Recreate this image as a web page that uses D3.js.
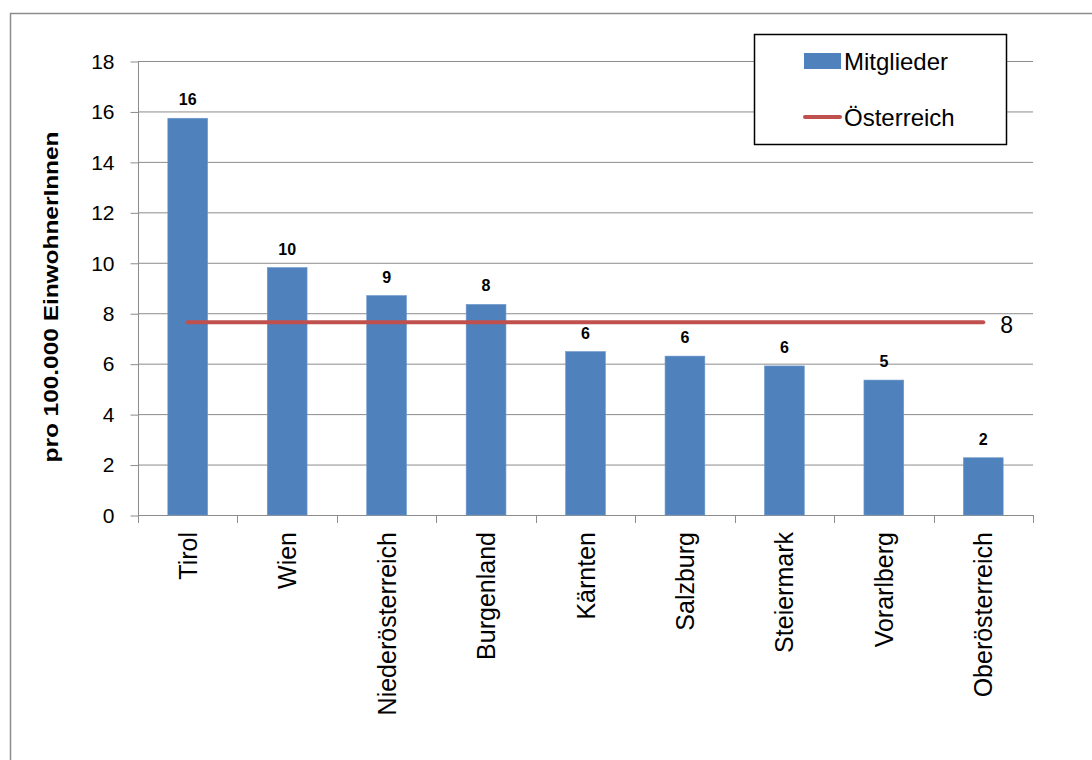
<!DOCTYPE html>
<html>
<head>
<meta charset="utf-8">
<script src="https://cdn.jsdelivr.net/npm/d3@7"></script>
<style>
  html, body { margin: 0; padding: 0; background: #fff; }
  svg { display: block; font-family: "Liberation Sans", Arial, sans-serif; }
</style>
</head>
<body>
<svg id="chart" width="1092" height="760"></svg>
<script>
// Mitglieder pro 100.000 EinwohnerInnen nach Bundesland
const categories = ["Tirol", "Wien", "Niederösterreich", "Burgenland", "Kärnten",
                    "Salzburg", "Steiermark", "Vorarlberg", "Oberösterreich"];
const mitglieder = [15.73, 9.81, 8.70, 8.35, 6.48, 6.30, 5.91, 5.35, 2.27];
const oesterreich = 7.64;
const yTicks = [0, 2, 4, 6, 8, 10, 12, 14, 16, 18];
const seriesNames = ["Mitglieder", "Österreich"];

const svg = d3.select("#chart");
const margin = { left: 138, right: 1033, top: 61, bottom: 515 };
const gridColor = "#8c8c8c";

// outer chart frame (open at right and bottom)
svg.append("path")
  .attr("d", `M10.5,760 V13.5 H1092`)
  .attr("fill", "none").attr("stroke", gridColor).attr("stroke-width", 1.5);

const x = d3.scaleBand()
  .domain(categories)
  .range([margin.left, margin.right])
  .paddingInner(0.6)
  .paddingOuter(0.3);

const y = d3.scaleLinear()
  .domain([0, 18])
  .range([margin.bottom, margin.top]);

// horizontal gridlines
svg.append("g")
  .selectAll("line")
  .data(yTicks.filter(d => d > 0))
  .join("line")
  .attr("x1", margin.left).attr("x2", margin.right)
  .attr("y1", d => y(d) + 0.5).attr("y2", d => y(d) + 0.5)
  .attr("stroke", gridColor).attr("stroke-width", 1);

// y axis
const yAxis = svg.append("g")
  .attr("transform", `translate(${margin.left + 0.5},0.5)`)
  .call(d3.axisLeft(y).tickValues(yTicks).tickSize(8).tickPadding(16).tickFormat(d3.format("d")));
yAxis.select(".domain").attr("stroke", gridColor).attr("d", `M0,${margin.top}V${margin.bottom}`);
yAxis.selectAll(".tick line").attr("stroke", gridColor);
yAxis.selectAll(".tick text")
  .attr("font-size", 21).attr("fill", "#000")
  .attr("font-family", "Liberation Sans, Arial, sans-serif");

// x axis with ticks at category boundaries
const step = (margin.right - margin.left) / categories.length;
svg.append("line")
  .attr("x1", margin.left).attr("x2", margin.right)
  .attr("y1", margin.bottom + 0.5).attr("y2", margin.bottom + 0.5)
  .attr("stroke", gridColor);
svg.append("g").selectAll("line")
  .data(d3.range(categories.length + 1))
  .join("line")
  .attr("x1", i => Math.round(margin.left + i * step) + 0.5)
  .attr("x2", i => Math.round(margin.left + i * step) + 0.5)
  .attr("y1", margin.bottom).attr("y2", margin.bottom + 8)
  .attr("stroke", gridColor);

// category labels, rotated
svg.append("g").selectAll("text")
  .data(categories)
  .join("text")
  .attr("transform", d => `translate(${x(d) + x.bandwidth() / 2 + 9},532) rotate(-90)`)
  .attr("text-anchor", "end")
  .attr("font-size", 25)
  .attr("fill", "#000")
  .text(d => d);

// bars
const barData = categories.map((c, i) => ({ c, v: mitglieder[i] }));
svg.append("g").selectAll("rect")
  .data(barData)
  .join("rect")
  .attr("x", d => x(d.c))
  .attr("width", x.bandwidth())
  .attr("y", d => y(d.v))
  .attr("height", d => y(0) - y(d.v))
  .attr("fill", "#4f81bd")
  .attr("stroke", "#6d98cc").attr("stroke-width", 0.6);

// value labels
svg.append("g").selectAll("text")
  .data(barData)
  .join("text")
  .attr("x", d => x(d.c) + x.bandwidth() / 2)
  .attr("y", d => y(d.v) - 13)
  .attr("text-anchor", "middle")
  .attr("font-size", 16).attr("font-weight", "bold")
  .attr("fill", "#000")
  .text(d => d3.format(".0f")(d.v));

// Österreich reference line
const first = categories[0], last = categories[categories.length - 1];
svg.append("line")
  .attr("x1", x(first) + x.bandwidth() / 2)
  .attr("x2", x(last) + x.bandwidth() / 2)
  .attr("y1", y(oesterreich)).attr("y2", y(oesterreich))
  .attr("stroke", "#c0504d").attr("stroke-width", 4).attr("stroke-linecap", "round");
svg.append("text")
  .attr("x", x(last) + x.bandwidth() / 2 + 17)
  .attr("y", y(oesterreich) + 11)
  .attr("font-size", 23).attr("fill", "#000")
  .text(d3.format(".0f")(oesterreich));

// y axis title
svg.append("text")
  .attr("transform", `translate(58,297) rotate(-90)`)
  .attr("text-anchor", "middle")
  .attr("font-size", 21).attr("font-weight", "bold").attr("fill", "#000")
  .attr("textLength", 331).attr("lengthAdjust", "spacingAndGlyphs")
  .text("pro 100.000 EinwohnerInnen");

// legend
const lg = svg.append("g");
lg.append("rect")
  .attr("x", 754.5).attr("y", 34.5).attr("width", 252).attr("height", 110)
  .attr("fill", "#fff").attr("stroke", "#000").attr("stroke-width", 1.5);
lg.append("rect")
  .attr("x", 804).attr("y", 53).attr("width", 37).attr("height", 16)
  .attr("fill", "#4f81bd");
lg.append("text")
  .attr("x", 844).attr("y", 70)
  .attr("font-size", 24).attr("fill", "#000")
  .text(seriesNames[0]);
lg.append("line")
  .attr("x1", 805).attr("x2", 840).attr("y1", 117).attr("y2", 117)
  .attr("stroke", "#c0504d").attr("stroke-width", 4).attr("stroke-linecap", "round");
lg.append("text")
  .attr("x", 844).attr("y", 126)
  .attr("font-size", 24).attr("fill", "#000")
  .text(seriesNames[1]);
</script>
</body>
</html>
